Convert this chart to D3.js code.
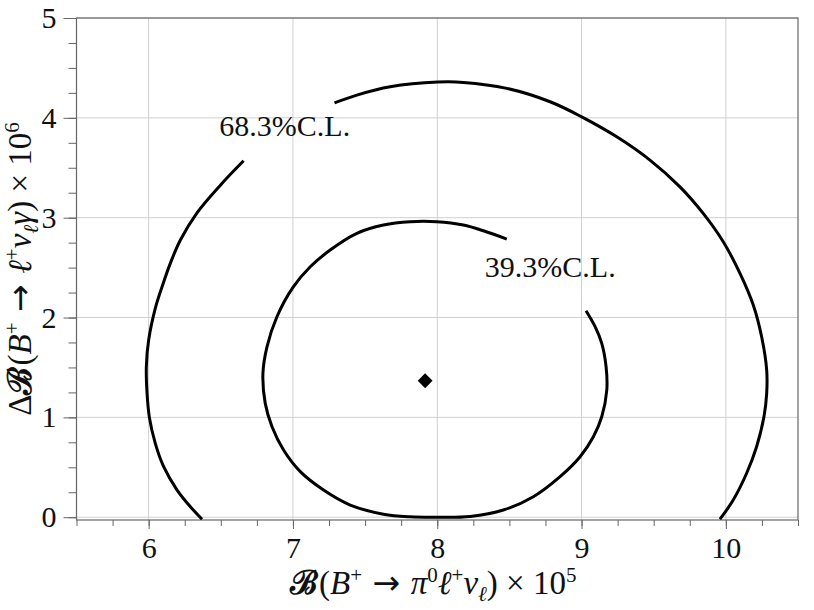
<!DOCTYPE html>
<html><head><meta charset="utf-8">
<script src="https://cdn.jsdelivr.net/npm/d3@7"></script>
<style>body{margin:0;background:#fff}</style>
</head><body><svg id="c" width="814" height="610"></svg>
<script>
// ---- data ----
const xMajor = [6, 7, 8, 9, 10];
const yMajor = [0, 1, 2, 3, 4, 5];
const xMinor = [5.5,5.75,6,6.25,6.5,6.75,7,7.25,7.5,7.75,8,8.25,8.5,8.75,9,9.25,9.5,9.75,10,10.25,10.5];
const yMinor = [0,0.25,0.5,0.75,1,1.25,1.5,1.75,2,2.25,2.5,2.75,3,3.25,3.5,3.75,4,4.25,4.5,4.75,5];

// 68.3% C.L. contour, left piece (label gap at top-left)
const outerLeftX = [6.658,6.497,6.335,6.220,6.150,6.093,6.046,6.000,5.984,5.989,6.005,6.046,6.104,6.197,6.289,6.370];
const outerLeftY = [3.570,3.326,3.049,2.776,2.542,2.308,2.092,1.774,1.507,1.240,1.000,0.740,0.506,0.272,0.105,-0.02];
// 68.3% C.L. contour, top/right piece
const outerRightX = [7.288,7.443,7.674,8.004,8.181,8.482,8.782,9.001,9.244,9.474,9.682,9.843,9.982,10.098,10.190,10.248,10.283,10.283,10.264,10.213,10.144,10.051,9.959];
const outerRightY = [4.150,4.228,4.311,4.358,4.355,4.295,4.161,4.010,3.810,3.577,3.309,3.043,2.759,2.442,2.125,1.807,1.474,1.241,1.006,0.706,0.440,0.172,-0.02];
// 39.3% C.L. contour (gap at top-right for label)
const innerX = [8.482,8.320,8.181,7.997,7.812,7.627,7.443,7.258,7.120,7.000,6.889,6.820,6.792,6.808,6.855,6.935,7.051,7.212,7.397,7.627,7.812,7.997,8.228,8.458,8.666,8.851,8.990,9.082,9.140,9.175,9.170,9.140,9.094,9.031];
const innerY = [2.786,2.869,2.926,2.959,2.959,2.926,2.843,2.676,2.508,2.302,2.008,1.707,1.441,1.140,0.906,0.673,0.456,0.272,0.122,0.030,0.004,0.000,0.008,0.072,0.205,0.406,0.606,0.806,1.006,1.274,1.507,1.741,1.908,2.068];
// best-fit point
const bestX = [7.916];
const bestY = [1.367];
// contour labels
const labelText = ["68.3%C.L.", "39.3%C.L."];
const labelX = [6.49, 8.33];
const labelY = [3.817, 2.402];

// ---- layout ----
const svg = d3.select("#c");
const L = 76.5, R = 798, T = 18, B = 520;
const x = d3.scaleLinear().domain([5.5, 10.5]).range([L, R]);
const y = d3.scaleLinear().domain([-0.028, 5.0]).range([B, T]);
const FONT = "'Liberation Serif', 'DejaVu Serif', serif";
const spine = "#666";

// grid
const g = svg.append("g");
g.selectAll(".gx").data(xMajor).join("line")
  .attr("x1", d => x(d)).attr("x2", d => x(d)).attr("y1", T).attr("y2", B)
  .attr("stroke", "#d0d0d0").attr("stroke-width", 1);
g.selectAll(".gy").data(yMajor).join("line")
  .attr("y1", d => y(d)).attr("y2", d => y(d)).attr("x1", L).attr("x2", R)
  .attr("stroke", "#d0d0d0").attr("stroke-width", 1);

// axes
function styleAxis(sel) {
  sel.select(".domain").remove();
  sel.selectAll(".tick line").attr("stroke", spine).attr("stroke-width", 1);
  sel.selectAll("text").attr("font-family", FONT).attr("font-size", 30).attr("fill", "#111");
}
svg.append("g").attr("transform", `translate(0,${B})`)
  .call(d3.axisBottom(x).tickValues(xMinor).tickSize(6).tickFormat(""))
  .call(styleAxis);
svg.append("g").attr("transform", `translate(0,${B})`)
  .call(d3.axisBottom(x).tickValues(xMajor).tickSize(9).tickPadding(8).tickFormat(d3.format("d")))
  .call(styleAxis);
svg.append("g").attr("transform", `translate(${L},0)`)
  .call(d3.axisLeft(y).tickValues(yMinor).tickSize(8).tickFormat(""))
  .call(styleAxis);
svg.append("g").attr("transform", `translate(${L},0)`)
  .call(d3.axisLeft(y).tickValues(yMajor).tickSize(13).tickPadding(7).tickFormat(d3.format("d")))
  .call(styleAxis);

// frame
svg.append("rect").attr("x", L).attr("y", T).attr("width", R - L).attr("height", B - T)
  .attr("fill", "none").attr("stroke", spine).attr("stroke-width", 1.2);

// clip
svg.append("clipPath").attr("id", "clip").append("rect")
  .attr("x", L).attr("y", T).attr("width", R - L).attr("height", B - T);

const line = d3.line().x(d => x(d[0])).y(d => y(d[1])).curve(d3.curveCatmullRom.alpha(0.5));
const curves = [
  d3.zip(outerLeftX, outerLeftY),
  d3.zip(outerRightX, outerRightY),
  d3.zip(innerX, innerY)
];
svg.append("g").attr("clip-path", "url(#clip)")
  .selectAll("path").data(curves).join("path")
  .attr("d", line).attr("fill", "none").attr("stroke", "#000").attr("stroke-width", 3)
  .attr("stroke-linecap", "butt");

// best point (diamond)
svg.selectAll(".best").data(d3.zip(bestX, bestY)).join("path")
  .attr("transform", d => `translate(${x(d[0])},${y(d[1])}) rotate(45)`)
  .attr("d", d3.symbol(d3.symbolSquare, 110)()).attr("fill", "#000");

// contour labels
svg.selectAll(".lab").data(d3.zip(labelText, labelX, labelY)).join("text")
  .attr("x", d => x(d[1])).attr("y", d => y(d[2]))
  .attr("font-family", FONT).attr("font-size", 30).attr("fill", "#111")
  .text(d => d[0]);

// axis titles with super/subscripts
function richText(sel, parts) {
  let cur = 0;
  parts.forEach(p => {
    const shift = p.s === "sup" ? -12 : p.s === "sub" ? 7 : 0;
    const ts = sel.append("tspan").attr("dy", shift - cur).text(p.t);
    cur = shift;
    if (p.s) ts.attr("font-size", 21);
    if (p.i) ts.attr("font-style", "italic");
    if (p.b) ts.attr("font-weight", "bold");
    if (p.f) ts.attr("font-family", p.f);
    if (p.dx) ts.attr("dx", p.dx);
  });
}
const xt = svg.append("text").attr("x", (L + R) / 2 - 4).attr("y", 594)
  .attr("text-anchor", "middle").attr("font-family", FONT).attr("font-size", 33).attr("fill", "#111");
richText(xt, [
  {t: "ℬ", b: 1, f: "'DejaVu Serif'"}, {t: "(", dx: 1}, {t: "B", i: 1}, {t: "+", s: "sup"}, {t: " → ", f: "'DejaVu Sans'"},
  {t: "π", i: 1}, {t: "0", s: "sup"}, {t: "ℓ", i: 1}, {t: "+", s: "sup"}, {t: "ν", i: 1},
  {t: "ℓ", s: "sub", i: 1}, {t: ") × 10"}, {t: "5", s: "sup"}
]);
const yt = svg.append("text").attr("transform", `translate(31,${(T + B) / 2}) rotate(-90)`)
  .attr("text-anchor", "middle").attr("font-family", FONT).attr("font-size", 33).attr("fill", "#111");
richText(yt, [
  {t: "Δ"}, {t: "ℬ", b: 1, f: "'DejaVu Serif'"}, {t: "(", dx: 1}, {t: "B", i: 1}, {t: "+", s: "sup"}, {t: " → ", f: "'DejaVu Sans'"},
  {t: "ℓ", i: 1}, {t: "+", s: "sup"}, {t: "ν", i: 1}, {t: "ℓ", s: "sub", i: 1}, {t: "γ", i: 1},
  {t: ") × 10"}, {t: "6", s: "sup"}
]);
</script>
</body></html>
